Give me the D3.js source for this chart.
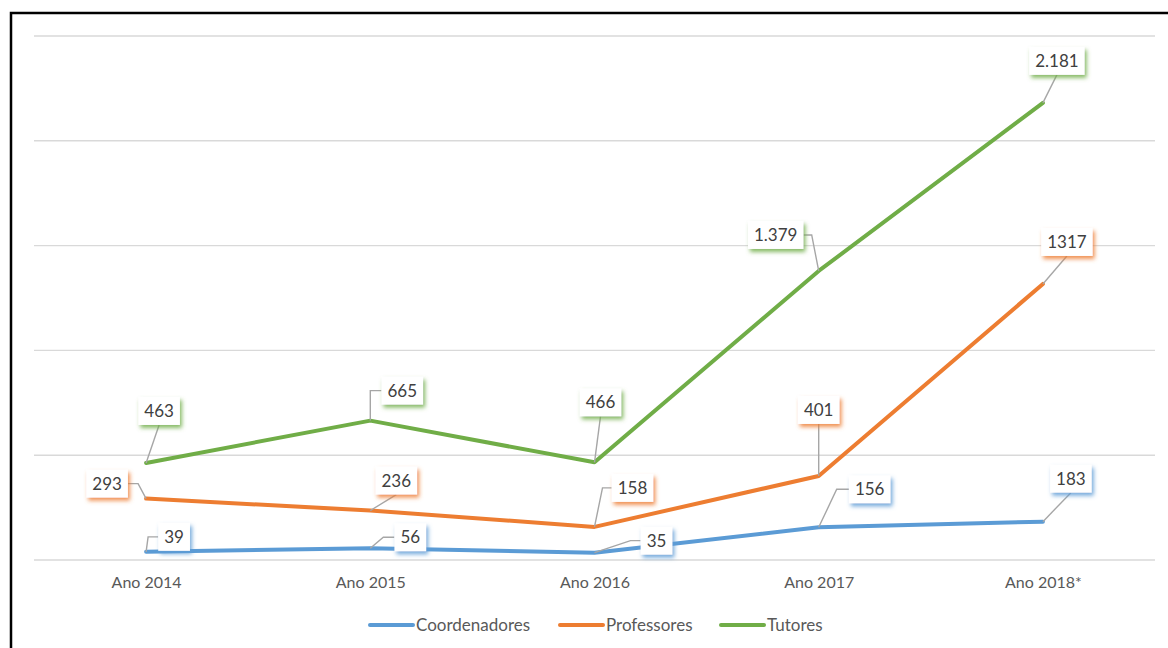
<!DOCTYPE html>
<html>
<head>
<meta charset="utf-8">
<script src="https://cdn.jsdelivr.net/npm/d3@7"></script>
<style>
  html, body { margin: 0; padding: 0; background: #fff; }
  svg { display: block; font-family: Lato, "Open Sans", sans-serif; }
</style>
</head>
<body>
<svg id="chart" width="1168" height="648"></svg>
<script>
// Categories and series
const years = ["Ano 2014", "Ano 2015", "Ano 2016", "Ano 2017", "Ano 2018*"];
const coordenadores = [39, 56, 35, 156, 183];
const professores = [293, 236, 158, 401, 1317];
const tutores = [463, 665, 466, 1379, 2181];
const yTicks = [0, 500, 1000, 1500, 2000, 2500];

// Label placement per point: box centre offset from the point and leader style
const coordLabelPos = [
  { dx: 28, dy: -15, leader: "left", ex: 2 },
  { dx: 40, dy: -11, leader: "left", ex: 13 },
  { dx: 62, dy: -12, leader: "left", ex: 36 },
  { dx: 51, dy: -38, leader: "left", ex: 18 },
  { dx: 28, dy: -43, leader: "bottom" }
];
const profLabelPos = [
  { dx: -39, dy: -15, leader: "right", ex: -8 },
  { dx: 26, dy: -30, leader: "bottom" },
  { dx: 38, dy: -39, leader: "left", ex: 8 },
  { dx: 0, dy: -66, leader: "bottom" },
  { dx: 24, dy: -42, leader: "bottom" }
];
const tutLabelPos = [
  { dx: 13, dy: -52, leader: "bottom" },
  { dx: 32, dy: -30, leader: "left", ex: 0 },
  { dx: 6, dy: -60, leader: "bottom" },
  { dx: -43, dy: -36, leader: "right", ex: -7 },
  { dx: 14, dy: -42, leader: "bottom" }
];

const fmtDot = v => d3.format(",")(v).replace(/,/g, ".");
const fmtPlain = v => String(v);

const series = [
  { name: "Coordenadores", values: coordenadores, color: "#5B9BD5", fmt: fmtPlain, pos: coordLabelPos, id: "c" },
  { name: "Professores", values: professores, color: "#ED7D31", fmt: fmtPlain, pos: profLabelPos, id: "p" },
  { name: "Tutores", values: tutores, color: "#70AD47", fmt: fmtDot, pos: tutLabelPos, id: "t" }
];

const svg = d3.select("#chart");

// Outer frame
svg.append("rect")
  .attr("x", 11).attr("y", 13).attr("width", 1200).attr("height", 700)
  .attr("fill", "none").attr("stroke", "#000").attr("stroke-width", 2.5);

const x = d3.scalePoint().domain(years).range([34, 1155]).padding(0.5);
const y = d3.scaleLinear().domain([0, 2500]).range([560, 36]);

// Soft coloured shadows for the label boxes
const defs = svg.append("defs");
series.forEach(s => {
  const f = defs.append("filter").attr("id", "glow-" + s.id)
    .attr("x", "-40%").attr("y", "-40%").attr("width", "180%").attr("height", "180%");
  f.append("feDropShadow").attr("dx", 2).attr("dy", 3).attr("stdDeviation", 2)
    .attr("flood-color", s.color).attr("flood-opacity", 0.85);
});

// Horizontal gridlines
svg.append("g")
  .selectAll("line").data(yTicks).join("line")
  .attr("x1", 34).attr("x2", 1155)
  .attr("y1", d => y(d)).attr("y2", d => y(d))
  .attr("stroke", "#D9D9D9").attr("stroke-width", 1.4);

// Category axis labels
const xAxis = svg.append("g").attr("transform", "translate(0,560)")
  .call(d3.axisBottom(x).tickSize(0).tickPadding(0));
xAxis.select(".domain").remove();
xAxis.selectAll("text")
  .attr("y", 28).attr("dy", 0)
  .attr("fill", "#595959").attr("font-size", 16)
  .attr("font-family", "Lato, sans-serif");

// Series lines
const line = d3.line().x((d, i) => x(years[i])).y(d => y(d));
series.forEach(s => {
  svg.append("path").datum(s.values)
    .attr("d", line)
    .attr("fill", "none").attr("stroke", s.color).attr("stroke-width", 4)
    .attr("stroke-linejoin", "round").attr("stroke-linecap", "round");
});

// Data labels with leader lines
const boxH = 28;
const labelLayer = svg.append("g");
series.forEach(s => {
  s.values.forEach((v, i) => {
    const px = x(years[i]), py = y(v);
    const p = s.pos[i];
    const cx = px + p.dx, cy = py + p.dy;
    const txt = s.fmt(v);
    const g = labelLayer.append("g");

    const t = g.append("text")
      .attr("x", cx).attr("y", cy + 6)
      .attr("text-anchor", "middle")
      .attr("font-size", 17).attr("fill", "#404040")
      .text(txt);
    const w = t.node().getComputedTextLength() + 12;

    let pts;
    if (p.leader === "bottom") {
      pts = [[px, py], [cx, cy + boxH / 2]];
    } else if (p.leader === "left") {
      pts = [[px, py], [px + p.ex, cy], [cx - w / 2, cy]];
    } else {
      pts = [[px, py], [px + p.ex, cy], [cx + w / 2, cy]];
    }
    g.insert("path", "text")
      .attr("d", d3.line()(pts))
      .attr("fill", "none").attr("stroke", "#A6A6A6").attr("stroke-width", 1.4);

    g.insert("rect", "text")
      .attr("x", cx - w / 2).attr("y", cy - boxH / 2)
      .attr("width", w).attr("height", boxH)
      .attr("fill", "#fff")
      .attr("filter", "url(#glow-" + s.id + ")");
  });
});

// Legend
const legendItems = [
  { s: series[0], x0: 370 },
  { s: series[1], x0: 560 },
  { s: series[2], x0: 721 }
];
const legend = svg.append("g");
legendItems.forEach(it => {
  legend.append("line")
    .attr("x1", it.x0).attr("x2", it.x0 + 43)
    .attr("y1", 625).attr("y2", 625)
    .attr("stroke", it.s.color).attr("stroke-width", 4).attr("stroke-linecap", "round");
  legend.append("text")
    .attr("x", it.x0 + 46).attr("y", 631)
    .attr("font-size", 17).attr("fill", "#595959")
    .text(it.s.name);
});
</script>
</body>
</html>
